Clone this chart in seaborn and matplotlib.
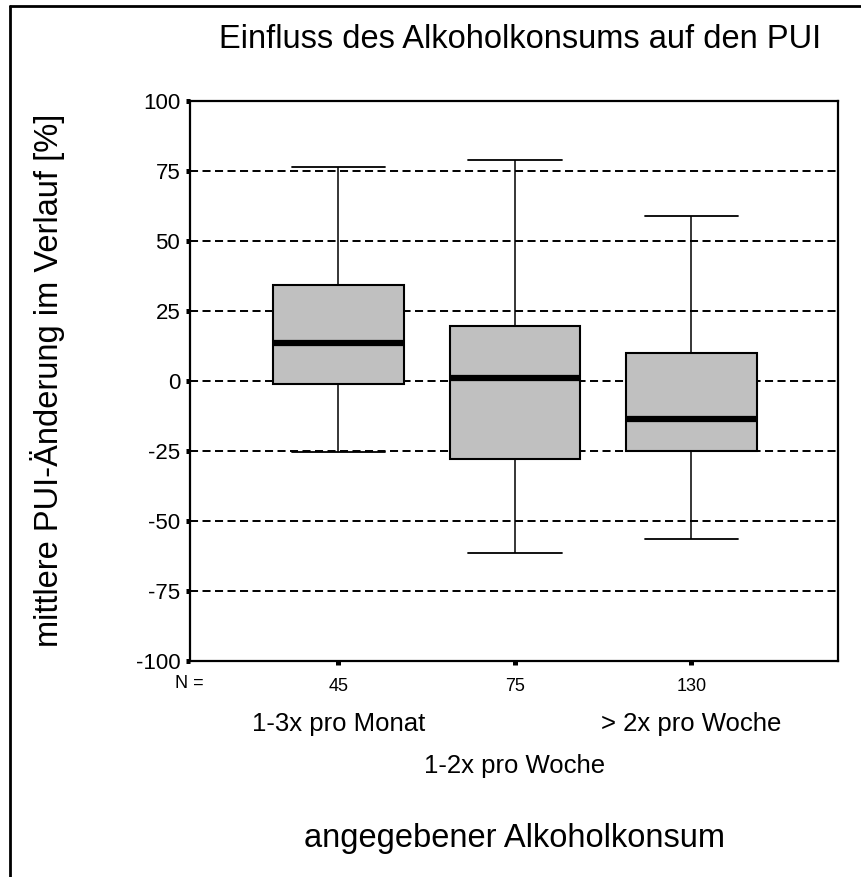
import numpy as np
import pandas as pd
import matplotlib
matplotlib.use("Agg")
import matplotlib.pyplot as plt
from matplotlib.lines import Line2D
from matplotlib.transforms import blended_transform_factory
import seaborn as sns

# ---- data (five-number summaries) ----
categories = ["1-3x pro Monat", "1-2x pro Woche", "> 2x pro Woche"]
n_values = ["45", "75", "130"]
whisker_low = [-25.5, -61.4, -56.4]
q1_values = [-1.1, -27.9, -25.0]
median_values = [13.6, 1.1, -13.6]
q3_values = [34.3, 19.6, 10.0]
whisker_high = [76.4, 79.0, 59.0]
y_ticks = [-100, -75, -50, -25, 0, 25, 50, 75, 100]

rows = []
for c, lo, a, m, b, hi in zip(categories, whisker_low, q1_values, median_values, q3_values, whisker_high):
    for v in (lo, a, m, b, hi):
        rows.append({"Gruppe": c, "Wert": v})
df = pd.DataFrame(rows)

sns.set_style("white")
plt.rcParams["font.family"] = ["Liberation Sans", "DejaVu Sans"]
plt.rcParams["lines.scale_dashes"] = False
plt.rcParams["text.color"] = "black"
plt.rcParams["xtick.color"] = "black"
plt.rcParams["ytick.color"] = "black"
plt.rcParams["xtick.labelcolor"] = "black"
plt.rcParams["ytick.labelcolor"] = "black"

W, H = 861, 877
fig = plt.figure(figsize=(W / 100, H / 100), dpi=100)
ax = fig.add_axes([190 / W, 1 - 661 / H, (838 - 190) / W, (661 - 101) / H])

sns.boxplot(
    data=df, x="Gruppe", y="Wert", order=categories, ax=ax,
    color="#c0c0c0", saturation=1, width=0.74, whis=(0, 100),
    showfliers=False, linecolor="black", linewidth=1.1,
    boxprops=dict(linewidth=1.5, edgecolor="black"),
    medianprops=dict(linewidth=4.5, color="black"),
    whiskerprops=dict(linewidth=1.1, color="black"),
    capprops=dict(linewidth=1.3, color="black"),
    capwidths=0.53,
)

ax.set_xlim(-0.84, 2.83)
ax.set_ylim(-100, 100)
ax.set_yticks(y_ticks)
ax.set_yticklabels([str(t) for t in y_ticks], fontsize=16, color="black")
ax.set_xticks(range(len(categories)))
ax.set_xticklabels(n_values, fontsize=13, color="black")
ax.tick_params(axis="both", direction="out", length=3, width=3.6, color="black",
               left=True, bottom=True, pad=4)
ax.tick_params(axis="x", pad=9)

ax.set_axisbelow(True)
ax.yaxis.grid(True, color="black", linewidth=1.4, linestyle=(0, (5.8, 3.2)))
ax.xaxis.grid(False)
for s in ax.spines.values():
    s.set_visible(True)
    s.set_color("black")
    s.set_linewidth(1.6)

ax.set_xlabel("")
ax.set_ylabel("")

# N label and category names
fig.text(189 / W, 1 - 684 / H, "N =", ha="center", va="center", fontsize=13, color="black")
cat_trans = blended_transform_factory(ax.transData, fig.transFigure)
cat_y = [724, 766, 724]
for i, (c, yy) in enumerate(zip(categories, cat_y)):
    ax.text(i, 1 - yy / H, c, transform=cat_trans, ha="center", va="center", fontsize=18.5, color="black")

fig.text(520 / W, 1 - 40 / H, "Einfluss des Alkoholkonsums auf den PUI", ha="center", va="center",
         fontsize=23.5, color="black")
fig.text(514 / W, 1 - 838 / H, "angegebener Alkoholkonsum", ha="center", va="center",
         fontsize=23.5, color="black")
fig.text(48 / W, 1 - 380 / H, "mittlere PUI-Änderung im Verlauf [%]", ha="center", va="center",
         rotation=90, fontsize=23.5, color="black")

# figure frame (left and top edge)
fig.add_artist(Line2D([10 / W, 10 / W], [0, 1 - 6 / H], transform=fig.transFigure, color="black", linewidth=2))
fig.add_artist(Line2D([10 / W, 1], [1 - 6 / H, 1 - 6 / H], transform=fig.transFigure, color="black", linewidth=2))

fig.savefig("out.png", dpi=100)
